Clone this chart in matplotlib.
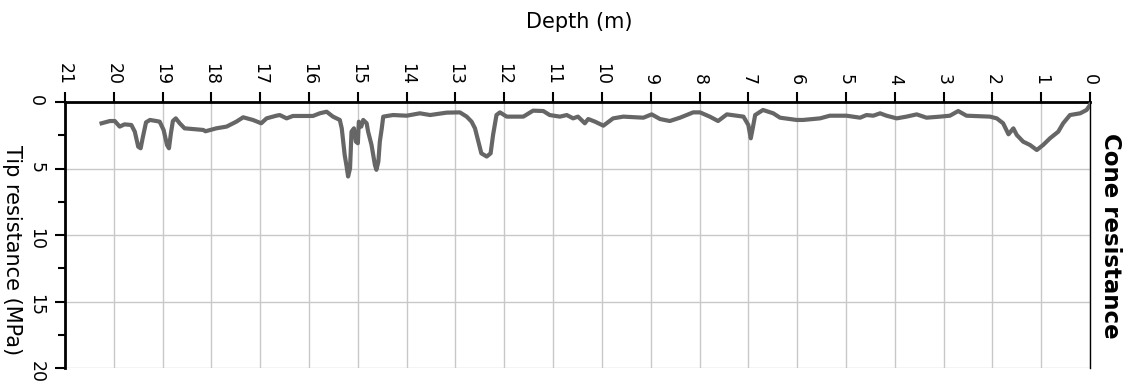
import matplotlib
matplotlib.use("Agg")
import matplotlib.pyplot as plt
from matplotlib.ticker import MultipleLocator

plt.rcParams['font.family'] = ['DejaVu Sans']

# CPT profile: depth (m) and tip resistance (MPa)
depth_m = [0.00, 0.01, 0.07, 0.20, 0.41, 0.55, 0.65, 0.82, 0.96, 1.09, 1.23, 1.37, 1.50, 1.57,
           1.67, 1.78, 1.91, 2.05, 2.53, 2.70, 2.87, 3.07, 3.35, 3.55, 3.76, 3.96, 4.17,
           4.30, 4.44, 4.58, 4.71, 4.99, 5.33, 5.53, 5.88, 6.01, 6.35, 6.49, 6.70, 6.86,
           6.91, 6.95, 7.00, 7.10, 7.44, 7.62, 7.79, 7.99, 8.13, 8.40, 8.61, 8.81, 8.98,
           9.15, 9.56, 9.77, 9.97, 10.14, 10.28, 10.35, 10.49, 10.59, 10.72, 10.86, 11.07,
           11.20, 11.41, 11.61, 11.95, 12.09, 12.16, 12.23, 12.28, 12.36, 12.47, 12.53,
           12.60, 12.67, 12.77, 12.91, 13.18, 13.52, 13.73, 14.00, 14.28, 14.48, 14.51,
           14.55, 14.58, 14.62, 14.65, 14.72, 14.79, 14.82, 14.89, 14.93, 14.98, 15.00,
           15.04, 15.08, 15.13, 15.16, 15.20, 15.23, 15.27, 15.33, 15.37, 15.51, 15.64,
           15.78, 15.92, 16.33, 16.46, 16.60, 16.67, 16.87, 16.98, 17.15, 17.35, 17.49,
           17.69, 17.90, 18.12, 18.17, 18.55, 18.65, 18.73, 18.79, 18.83, 18.87, 18.91,
           18.98, 19.06, 19.13, 19.26, 19.34, 19.41, 19.45, 19.50, 19.57, 19.64, 19.78,
           19.88, 19.98, 20.08, 20.25]
tip_resistance_mpa = [0.20, 0.28, 0.60, 0.85, 0.98, 1.60, 2.23, 2.73, 3.23, 3.61, 3.23, 2.98, 2.48, 1.98,
                      2.43, 1.60, 1.23, 1.10, 1.03, 0.68, 1.03, 1.10, 1.18, 0.93, 1.10, 1.23, 1.03,
                      0.85, 1.03, 0.98, 1.18, 1.03, 1.03, 1.23, 1.35, 1.35, 1.18, 0.85, 0.60, 0.98,
                      1.98, 2.73, 1.73, 1.10, 0.93, 1.43, 1.10, 0.78, 0.78, 1.18, 1.43, 1.28, 0.93,
                      1.18, 1.10, 1.23, 1.78, 1.48, 1.28, 1.60, 1.10, 1.23, 0.98, 1.10, 0.98,
                      0.68, 0.65, 1.10, 1.10, 0.78, 0.98, 2.48, 3.86, 4.10, 3.86, 2.98,
                      1.98, 1.48, 1.10, 0.78, 0.80, 0.98, 0.85, 1.03, 0.98, 1.10, 1.98,
                      2.98, 4.49, 5.10, 4.74, 3.23, 2.23, 1.60, 1.35, 1.85, 1.48, 3.10,
                      2.98, 1.98, 2.23, 4.99, 5.60, 4.86, 3.98, 1.98, 1.35, 1.10, 0.73,
                      0.85, 1.05, 1.05, 1.23, 0.98, 1.03, 1.23, 1.60, 1.35, 1.15, 1.48,
                      1.85, 1.98, 2.20, 2.10, 1.98, 1.60, 1.23, 1.43, 2.35, 3.48, 3.23,
                      2.10, 1.48, 1.43, 1.35, 1.53, 2.73, 3.48, 3.36, 2.23, 1.73, 1.68,
                      1.85, 1.43, 1.43, 1.60]

depth_ticks = list(range(0, 22))
resistance_ticks = [0, 5, 10, 15, 20]

W, H = 1127, 388
fig = plt.figure(figsize=(W / 100, H / 100), dpi=100)
ax = fig.add_axes([65 / W, 1 - 368 / H, (1090 - 65) / W, (368 - 102) / H])

ax.plot(depth_m, tip_resistance_mpa, color='#666666', linewidth=3.0,
        solid_joinstyle='round', zorder=3)

ax.set_xlim(21, 0)
ax.set_ylim(20, 0)
ax.set_xticks(depth_ticks)
ax.set_xticklabels([str(t) for t in depth_ticks], rotation=270)
ax.set_yticks(resistance_ticks)
ax.set_yticklabels([str(t) for t in resistance_ticks], rotation=270)
ax.yaxis.set_minor_locator(MultipleLocator(2.5))

ax.xaxis.tick_top()
ax.xaxis.set_label_position('top')
ax.tick_params(axis='x', which='major', direction='out', length=7.2, width=1.5,
               pad=5, labelsize=12.5)
ax.tick_params(axis='y', which='major', direction='out', length=7.2, width=1.5,
               pad=7, labelsize=12.5)
ax.tick_params(axis='y', which='minor', direction='out', length=5, width=1.5)

ax.grid(True, which='major', color='#c8c8c8', linewidth=1.0, zorder=0)
ax.set_axisbelow(True)

ax.spines['bottom'].set_visible(False)
ax.spines['left'].set_linewidth(2.0)
ax.spines['top'].set_linewidth(2.0)
ax.spines['right'].set_linewidth(1.0)

fig.text(579 / W, 1 - 22 / H, 'Depth (m)', ha='center', va='center', fontsize=15)
fig.text(12 / W, 1 - 250 / H, 'Tip resistance (MPa)', ha='center', va='center',
         rotation=270, fontsize=15)
fig.text(1110 / W, 1 - 236 / H, 'Cone resistance', ha='center', va='center',
         rotation=270, fontsize=16.5, fontweight='bold')

fig.savefig('out.png', dpi=100)
